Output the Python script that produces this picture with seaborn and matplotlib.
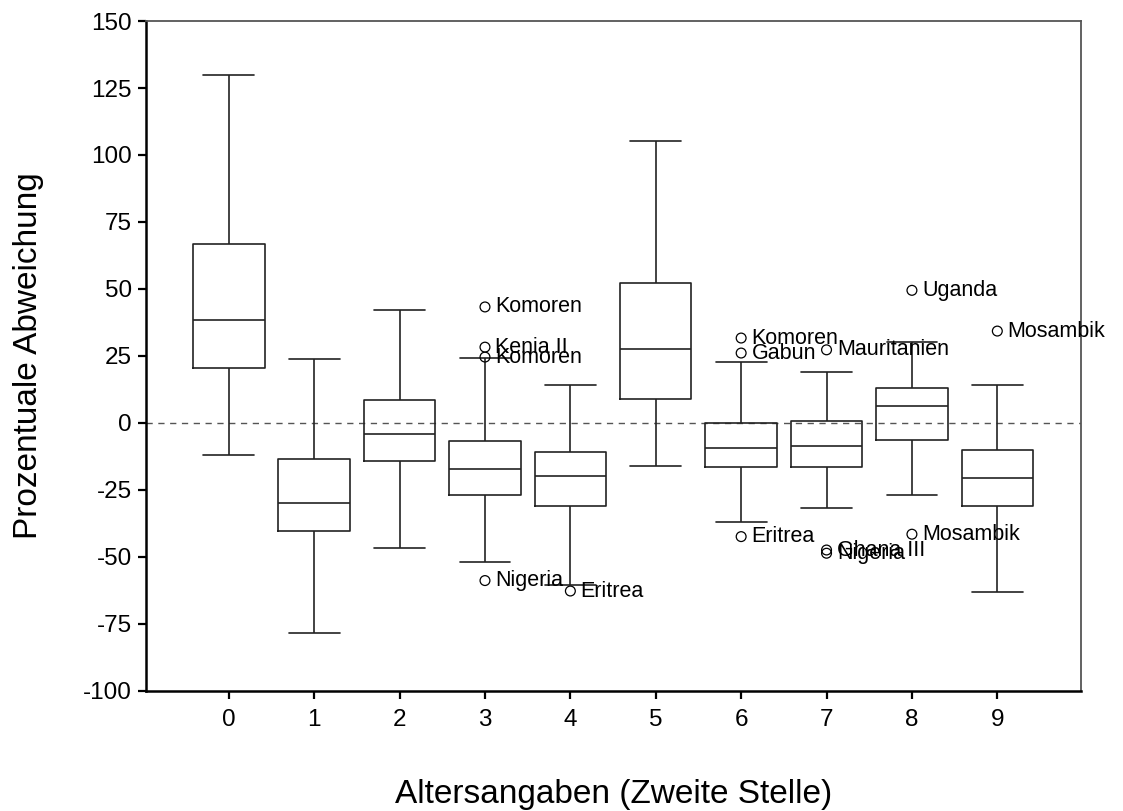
import numpy as np
import pandas as pd
import matplotlib
matplotlib.use("Agg")
import matplotlib.pyplot as plt
import seaborn as sns

# ---- data ----
categories = ["0", "1", "2", "3", "4", "5", "6", "7", "8", "9"]
whisker_low = [-12.1, -78.3, -46.5, -51.8, -60.6, -16.1, -36.8, -31.7, -26.9, -63.1]
q1 = [20.5, -40.3, -14.0, -26.9, -30.9, 9.1, -16.3, -16.3, -6.2, -30.9]
median = [38.3, -29.7, -4.2, -17.2, -19.6, 27.7, -9.4, -8.6, 6.5, -20.7]
q3 = [66.9, -13.4, 8.7, -6.6, -10.9, 52.4, 0.1, 0.7, 13.0, -9.9]
whisker_high = [129.8, 23.7, 42.2, 24.3, 14.0, 105.2, 22.9, 19.0, 30.3, 14.0]

outlier_cat = [3, 3, 3, 3, 4, 6, 6, 6, 7, 7, 7, 8, 8, 9]
outlier_val = [43.3, 28.3, 24.6, -58.8, -62.7, 31.7, 26.1, -42.4, 27.3, -47.4, -48.6, 49.5, -41.5, 34.3]
outlier_label = ["Komoren", "Kenia II", "Komoren", "Nigeria", "Eritrea", "Komoren", "Gabun",
                 "Eritrea", "Mauritanien", "Ghana III", "Nigeria", "Uganda", "Mosambik", "Mosambik"]

y_ticks = [-100, -75, -50, -25, 0, 25, 50, 75, 100, 125, 150]
x_title = "Altersangaben (Zweite Stelle)"
y_title = "Prozentuale Abweichung"

# five-number rows per group so the library computes the box statistics
rows = []
for c, a, b, m, d, e in zip(categories, whisker_low, q1, median, q3, whisker_high):
    for v in (a, b, m, d, e):
        rows.append({"group": c, "value": v})
df = pd.DataFrame(rows)

sns.set_style("white")
plt.rcParams["font.family"] = ["Liberation Sans", "DejaVu Sans"]
plt.rcParams["text.color"] = "black"
plt.rcParams["axes.labelcolor"] = "black"
plt.rcParams["xtick.color"] = "black"
plt.rcParams["ytick.color"] = "black"

fig = plt.figure(figsize=(11.23, 8.11), dpi=100)
ax = fig.add_axes([0.1300, 0.1480, 0.8326, 0.8261])

ax.axhline(0, color="#555555", lw=1.0, ls=(0, (4.5, 4)), zorder=0)

line_c = "#222222"
sns.boxplot(data=df, x="group", y="value", order=categories, ax=ax,
            whis=(0, 100), width=0.837, fill=False, color=line_c,
            linecolor=line_c, linewidth=1.2, capwidths=0.594,
            showfliers=False)

sns.scatterplot(x=outlier_cat, y=outlier_val, ax=ax, marker="o", s=50,
                facecolors="none", edgecolor="black", linewidth=0.9,
                legend=False, zorder=5)
for cx, v, lab in zip(outlier_cat, outlier_val, outlier_label):
    ax.text(cx + 0.12, v, lab, ha="left", va="center", fontsize=15.5,
            color="black", zorder=6, clip_on=False)

ax.set_xlim(-0.97, 9.98)
ax.set_ylim(-100, 150)
ax.set_yticks(y_ticks)
ax.set_yticklabels([str(t) for t in y_ticks])

ax.set_xlabel(x_title, fontsize=24, color="black")
ax.set_ylabel(y_title, fontsize=24, color="black")
ax.xaxis.set_label_coords(0.5, -0.131)
ax.yaxis.set_label_coords(-0.109, 0.5)

ax.tick_params(axis="both", which="both", direction="out", labelsize=17.5,
               length=6, width=1.6, color="black", labelcolor="black",
               left=True, bottom=True, top=False, right=False)
ax.tick_params(axis="y", pad=4)
ax.tick_params(axis="x", pad=7)

for side in ("left", "bottom"):
    ax.spines[side].set_color("black")
    ax.spines[side].set_linewidth(1.8)
for side in ("top", "right"):
    ax.spines[side].set_color("#555555")
    ax.spines[side].set_linewidth(1.3)
ax.grid(False)

fig.savefig("out.png", dpi=100, facecolor="white")
